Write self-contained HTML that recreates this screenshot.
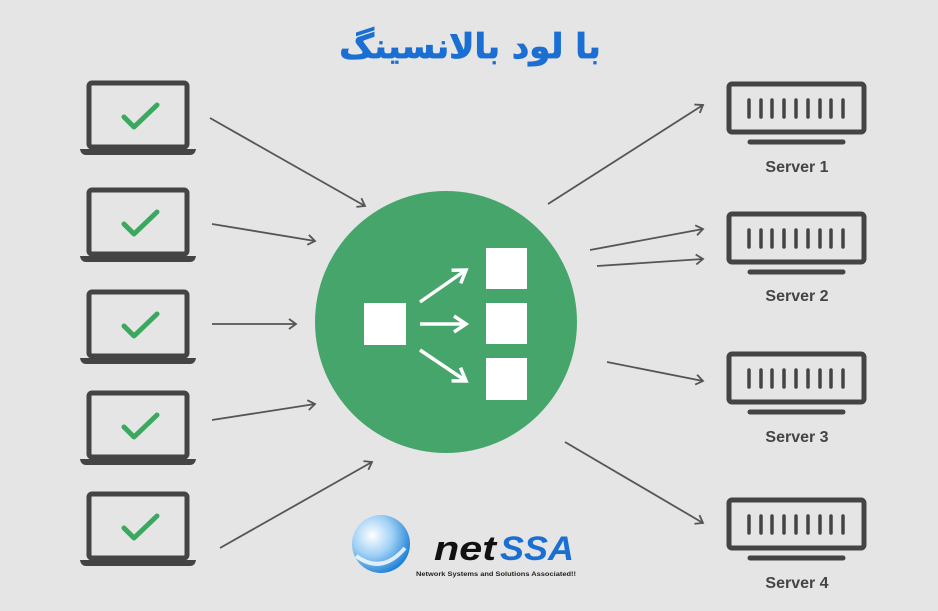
<!DOCTYPE html>
<html><head><meta charset="utf-8"><style>
body{margin:0;background:#e5e5e5;}
svg{display:block}
</style></head><body>
<svg width="938" height="611" viewBox="0 0 938 611" xmlns="http://www.w3.org/2000/svg">
<defs>
<marker id="a" markerWidth="12" markerHeight="12" refX="9" refY="6" orient="auto" markerUnits="userSpaceOnUse">
<path d="M2,1 L9,6 L2,11" fill="none" stroke="#555" stroke-width="1.8"/>
</marker>
<marker id="w" markerWidth="20" markerHeight="20" refX="15" refY="10" orient="auto" markerUnits="userSpaceOnUse">
<path d="M3,2 L15,10 L3,18" fill="none" stroke="#fff" stroke-width="3.5"/>
</marker>
<radialGradient id="g" cx="0.35" cy="0.35" r="0.7"><stop offset="0" stop-color="#ffffff"/><stop offset="0.5" stop-color="#9fd0f5"/><stop offset="1" stop-color="#1e7fd6"/></radialGradient>
<g id="lap">
<rect x="89" y="83" width="98" height="64" rx="3" fill="none" stroke="#444" stroke-width="5"/>
<path d="M80,149 H196 Q195,155 190,155 H86 Q81,155 80,149Z" fill="#444"/>
<path d="M124,117 L134,127 L157,105" fill="none" stroke="#3aa85e" stroke-width="5" stroke-linecap="round" stroke-linejoin="round"/>
</g>
<g id="srv">
<rect x="729" y="84" width="135" height="48" rx="3" fill="none" stroke="#444" stroke-width="5"/>
<g stroke="#444" stroke-width="3.5" stroke-linecap="round">
<line x1="749" y1="100" x2="749" y2="117"/><line x1="761" y1="100" x2="761" y2="117"/><line x1="772" y1="100" x2="772" y2="117"/><line x1="784" y1="100" x2="784" y2="117"/><line x1="796" y1="100" x2="796" y2="117"/><line x1="808" y1="100" x2="808" y2="117"/><line x1="820" y1="100" x2="820" y2="117"/><line x1="831" y1="100" x2="831" y2="117"/><line x1="843" y1="100" x2="843" y2="117"/>
</g>
<line x1="750" y1="142" x2="843" y2="142" stroke="#444" stroke-width="5" stroke-linecap="round"/>
</g>
</defs>
<text x="470" y="58" text-anchor="middle" font-family="'DejaVu Sans',sans-serif" font-weight="bold" font-size="34" fill="#1b6fd3" stroke="#1b6fd3" stroke-width="0.8">با لود بالانسینگ</text>
<use href="#lap"/>
<use href="#lap" y="107"/>
<use href="#lap" y="209"/>
<use href="#lap" y="310"/>
<use href="#lap" y="411"/>
<use href="#srv"/>
<use href="#srv" y="130"/>
<use href="#srv" y="270"/>
<use href="#srv" y="416"/>
<g font-family="'Liberation Sans',sans-serif" font-weight="bold" font-size="16" fill="#444" text-anchor="middle">
<text x="797" y="172">Server 1</text><text x="797" y="301">Server 2</text><text x="797" y="442">Server 3</text><text x="797" y="588">Server 4</text>
</g>
<g stroke="#555" stroke-width="1.8" marker-end="url(#a)">
<line x1="210" y1="118" x2="365" y2="206"/>
<line x1="212" y1="224" x2="315" y2="241"/>
<line x1="212" y1="324" x2="296" y2="324"/>
<line x1="212" y1="420" x2="315" y2="404"/>
<line x1="220" y1="548" x2="372" y2="462"/>
<line x1="548" y1="204" x2="703" y2="105"/>
<line x1="590" y1="250" x2="703" y2="229"/>
<line x1="597" y1="266" x2="703" y2="259"/>
<line x1="607" y1="362" x2="703" y2="381"/>
<line x1="565" y1="442" x2="703" y2="523"/>
</g>
<circle cx="446" cy="322" r="131" fill="#46a56b"/>
<rect x="364" y="303" width="42" height="42" fill="#fff"/>
<rect x="486" y="248" width="41" height="41" fill="#fff"/>
<rect x="486" y="303" width="41" height="41" fill="#fff"/>
<rect x="486" y="358" width="41" height="42" fill="#fff"/>
<g stroke="#fff" stroke-width="3.5" marker-end="url(#w)">
<line x1="420" y1="302" x2="466" y2="270"/>
<line x1="420" y1="324" x2="466" y2="324"/>
<line x1="420" y1="350" x2="466" y2="381"/>
</g>
<circle cx="381" cy="544" r="29" fill="url(#g)"/>
<path d="M356,556 Q382,575 405,548" fill="none" stroke="#fff" stroke-width="4" opacity="0.8"/>
<text x="434" y="560" font-family="'Liberation Sans',sans-serif" font-weight="bold" font-style="italic" font-size="34" fill="#111" textLength="62" lengthAdjust="spacingAndGlyphs">net</text>
<text x="500" y="560" font-family="'Liberation Sans',sans-serif" font-weight="bold" font-style="italic" font-size="34" fill="#1b6fd3" textLength="74" lengthAdjust="spacingAndGlyphs">SSA</text>
<text x="416" y="576" font-family="'Liberation Sans',sans-serif" font-weight="bold" font-size="6.5" fill="#222" textLength="160" lengthAdjust="spacingAndGlyphs">Network Systems and Solutions Associated!!</text>
</svg>
</body></html>
